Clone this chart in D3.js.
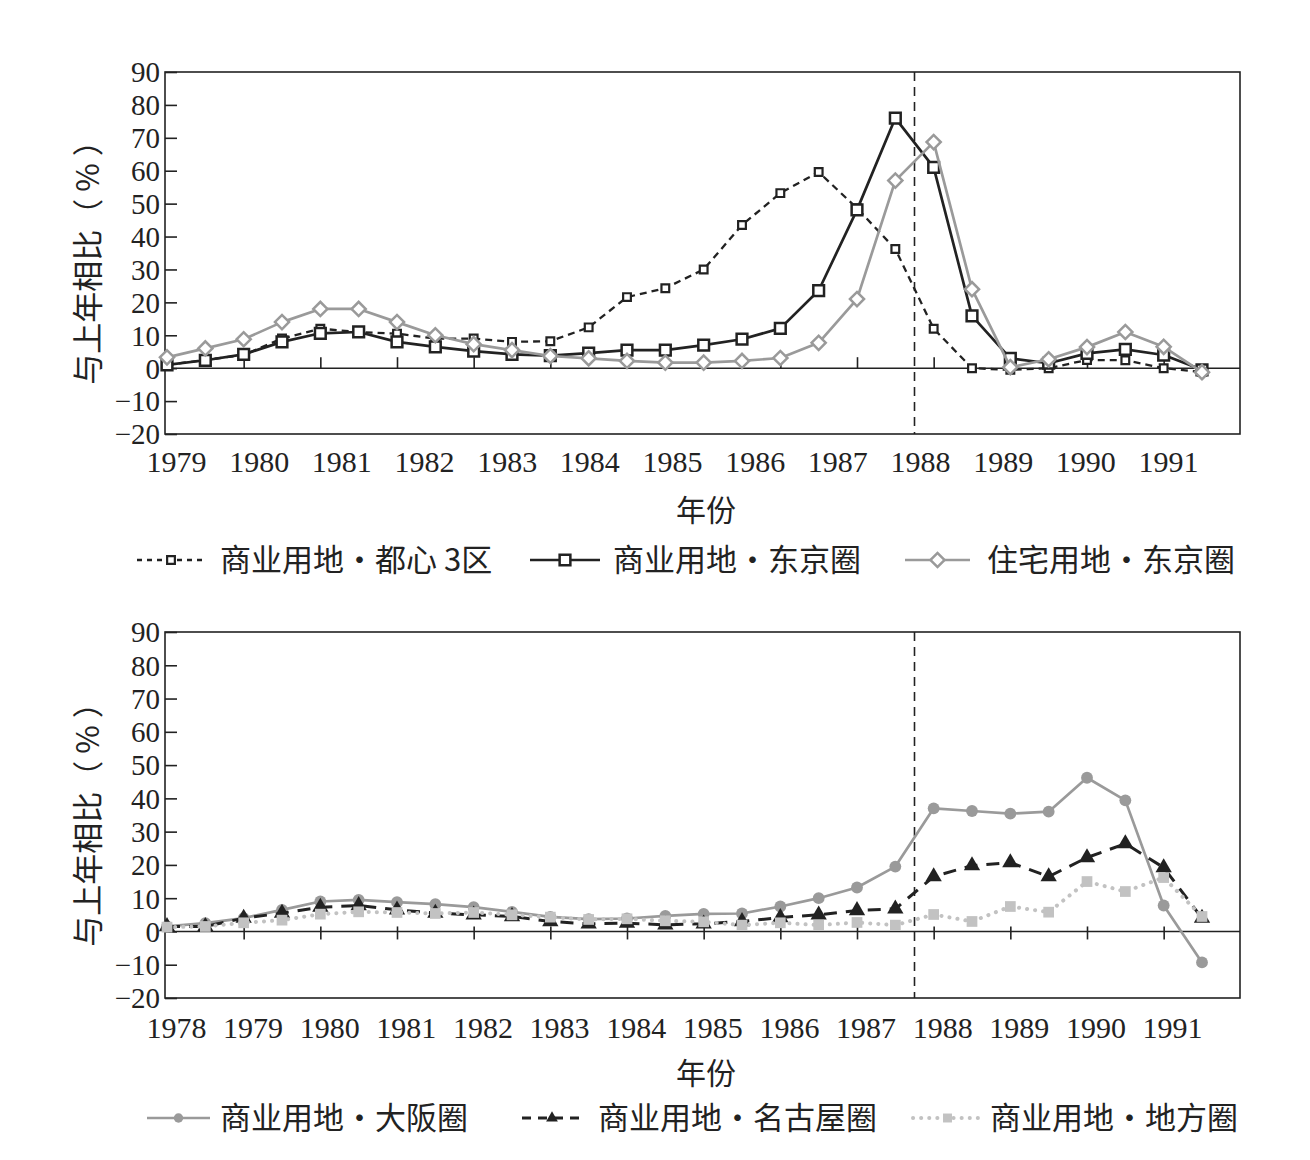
<!DOCTYPE html>
<html>
<head>
<meta charset="utf-8">
<script src="https://cdn.jsdelivr.net/npm/d3@7"></script>
<style>
  html, body { margin: 0; padding: 0; background: #fff; }
  svg { display: block; }
</style>
</head>
<body>
<svg id="chart" width="1310" height="1160"></svg>
<script>
// ---------------- DATA ----------------
// semi-annual observations (28 points per series)
const yTicks = [-20, -10, 0, 10, 20, 30, 40, 50, 60, 70, 80, 90];

const topYearLabels = [1979, 1980, 1981, 1982, 1983, 1984, 1985, 1986, 1987, 1988, 1989, 1990, 1991];
const bottomYearLabels = [1978, 1979, 1980, 1981, 1982, 1983, 1984, 1985, 1986, 1987, 1988, 1989, 1990, 1991];

// Top panel series
const comTokyo3Wards = [1, 2.5, 4, 9, 12, 11, 10.5, 9, 9, 8, 8.2, 12.4, 21.6, 24.3, 30, 43.5, 53.2, 59.6, 48.6, 36.2, 12, 0, -0.5, 0, 2.5, 2.4, 0, -1.2];
const comTokyoArea   = [1, 2.4, 4.2, 8, 10.6, 11, 8, 6.5, 5.2, 4.2, 3.8, 4.6, 5.5, 5.5, 7, 8.8, 12.1, 23.6, 48.1, 76, 61, 15.9, 3, 1.5, 4.5, 5.7, 4, -0.5];
const resTokyoArea   = [3.3, 6, 8.8, 14, 18, 18, 14, 10, 7.3, 5.5, 3.7, 3, 2.2, 1.7, 1.7, 2.2, 3.1, 7.7, 21, 57, 68.7, 24, 0.3, 2.7, 6.4, 11, 6.5, -1.2];

// Bottom panel series
const comOsaka   = [1.5, 2.5, 4, 6.5, 9, 9.5, 8.8, 8.2, 7.3, 5.9, 4.4, 3.7, 3.9, 4.7, 5.3, 5.4, 7.5, 10, 13.2, 19.5, 37, 36.2, 35.4, 36, 46.2, 39.4, 7.8, -9.3];
const comNagoya  = [1.5, 1.5, 4, 5.5, 7.3, 7.8, 6.5, 5.5, 5, 4.5, 3, 2.3, 2.5, 2, 2.3, 3, 4.2, 5, 6.3, 6.8, 16.5, 19.8, 20.7, 16.5, 22.2, 26.4, 19.2, 4];
const comRegional= [1.3, 1.5, 2.6, 3.4, 5.2, 5.9, 5.7, 5.4, 5.7, 5, 4.3, 3.6, 3.8, 3.2, 2.9, 1.9, 2.6, 1.9, 2.7, 1.9, 5.1, 3, 7.5, 5.8, 15, 12, 16.2, 4.5];

const markerLineIndex = 19.5;   // vertical dashed reference line (between observations)
const xTickIndices = [2, 4, 6, 8, 10, 12, 14, 16, 18, 20, 22, 24, 26];

const yTitle = "与上年相比（ % ）";
const xTitle = "年份";
const topLegend = ["商业用地・都心 3区", "商业用地・东京圈", "住宅用地・东京圈"];
const bottomLegend = ["商业用地・大阪圈", "商业用地・名古屋圈", "商业用地・地方圈"];

// ---------------- DRAW ----------------
const svg = d3.select("#chart");
svg.append("rect").attr("width", 1310).attr("height", 1160).attr("fill", "#fff");

const INK = "#222";
const GRAY = "#9a9a9a";
const LIGHT = "#c2c2c2";
const NUMFONT = "'Liberation Serif', 'DejaVu Serif', serif";
const CJKFONT = "'Noto Sans CJK SC', 'Noto Sans', sans-serif";

const plotLeft = 165, plotRight = 1240;
const x = d3.scaleLinear().domain([0, 27]).range([167, 1202]);

function fmt(d) { return d < 0 ? "\u2212" + Math.abs(d) : String(d); }

function panel(cfg) {
  const g = svg.append("g");
  const y = d3.scaleLinear().domain([-20, 90]).range([cfg.bottom, cfg.top]);

  // frame
  g.append("rect")
    .attr("x", plotLeft).attr("y", cfg.top)
    .attr("width", plotRight - plotLeft).attr("height", cfg.bottom - cfg.top)
    .attr("fill", "none").attr("stroke", INK).attr("stroke-width", 1.6);

  // y axis
  const yAxis = d3.axisLeft(y).tickValues(yTicks).tickFormat(fmt)
    .tickSizeInner(-12).tickSizeOuter(0).tickPadding(5);
  const ya = g.append("g").attr("transform", `translate(${plotLeft},0)`).call(yAxis);
  ya.select(".domain").remove();
  ya.selectAll("line").attr("stroke", INK).attr("stroke-width", 1.6);
  ya.selectAll("text").attr("font-family", NUMFONT).attr("font-size", 29)
    .attr("fill", INK).attr("dy", "0.34em");

  // zero line
  g.append("line").attr("x1", plotLeft).attr("x2", plotRight)
    .attr("y1", y(0)).attr("y2", y(0)).attr("stroke", INK).attr("stroke-width", 1.6);

  // x ticks on the zero line
  const xAxis = d3.axisBottom(x).tickValues(xTickIndices).tickFormat("")
    .tickSizeInner(cfg.tickLen).tickSizeOuter(0);
  const xa = g.append("g").attr("transform", `translate(0,${y(0) + cfg.tickShift})`).call(xAxis);
  xa.select(".domain").remove();
  xa.selectAll("line").attr("stroke", INK).attr("stroke-width", 1.6);

  // year labels
  const lab = d3.scaleLinear()
    .domain([cfg.years[0], cfg.years[cfg.years.length - 1]])
    .range(cfg.labelRange);
  const la = g.append("g").attr("transform", `translate(0,${cfg.labelBase})`)
    .call(d3.axisBottom(lab).tickValues(cfg.years).tickFormat(d => String(d)).tickSize(0).tickPadding(0));
  la.select(".domain").remove();
  la.selectAll("text").attr("font-family", NUMFONT).attr("font-size", 30)
    .attr("fill", INK).attr("dy", 0);

  // vertical dashed line
  g.append("line").attr("x1", x(markerLineIndex)).attr("x2", x(markerLineIndex))
    .attr("y1", cfg.top).attr("y2", cfg.bottom)
    .attr("stroke", INK).attr("stroke-width", 1.6).attr("stroke-dasharray", "9,6");

  // titles
  g.append("text").attr("transform", `translate(99,${(cfg.top + cfg.bottom) / 2 + 2}) rotate(-90)`)
    .attr("text-anchor", "middle").attr("font-family", CJKFONT).attr("font-size", 31)
    .attr("fill", INK).text(yTitle);
  g.append("text").attr("x", 706).attr("y", cfg.xTitleBase)
    .attr("text-anchor", "middle").attr("font-family", CJKFONT).attr("font-size", 30)
    .attr("fill", INK).text(xTitle);

  // series
  const line = d3.line().x((d, i) => x(i)).y(d => y(d));
  cfg.series.forEach(s => {
    const sg = g.append("g");
    sg.append("path").datum(s.values).attr("d", line).attr("fill", "none")
      .attr("stroke", s.color).attr("stroke-width", s.width)
      .attr("stroke-dasharray", s.dash || null)
      .attr("stroke-linecap", s.cap || "butt").attr("stroke-linejoin", "round");
    sg.selectAll("path.m").data(s.values).enter().append("path").attr("class", "m")
      .attr("transform", (d, i) => `translate(${x(i)},${y(d)})` + (s.rotate ? " rotate(45)" : ""))
      .attr("d", d3.symbol().type(s.symbol).size(s.size)())
      .attr("fill", s.fill).attr("stroke", s.mstroke || "none").attr("stroke-width", s.mwidth || 0);
  });

  // legend
  cfg.legend.forEach((L, k) => {
    const s = cfg.series[k];
    const lg = g.append("g");
    lg.append("line").attr("x1", L.x1).attr("x2", L.x2).attr("y1", cfg.legendY).attr("y2", cfg.legendY)
      .attr("stroke", s.color).attr("stroke-width", s.width)
      .attr("stroke-dasharray", s.legendDash || s.dash || null)
      .attr("stroke-linecap", s.cap || "butt");
    lg.append("path")
      .attr("transform", `translate(${(L.x1 + L.x2) / 2},${cfg.legendY})` + (s.rotate ? " rotate(45)" : ""))
      .attr("d", d3.symbol().type(s.symbol).size(s.legendSize || s.size)())
      .attr("fill", s.fill).attr("stroke", s.mstroke || "none").attr("stroke-width", s.mwidth || 0);
    lg.append("text").attr("x", L.tx).attr("y", cfg.legendY + 11)
      .attr("font-family", CJKFONT).attr("font-size", 31).attr("fill", INK).text(cfg.legendText[k]);
  });
}

panel({
  top: 72, bottom: 434,
  tickLen: -11, tickShift: 0,
  years: topYearLabels, labelRange: [176, 1168], labelBase: 472,
  xTitleBase: 521,
  legendY: 560,
  legendText: topLegend,
  legend: [{x1: 137, x2: 205, tx: 220}, {x1: 530, x2: 600, tx: 613}, {x1: 905, x2: 970, tx: 987}],
  series: [
    {values: comTokyo3Wards, color: INK, width: 2.3, dash: "7,5", symbol: d3.symbolSquare, size: 60,
     fill: "#fff", mstroke: INK, mwidth: 2.2, legendDash: "5,5"},
    {values: comTokyoArea, color: INK, width: 2.7, symbol: d3.symbolSquare, size: 115,
     fill: "#fff", mstroke: INK, mwidth: 2.5},
    {values: resTokyoArea, color: GRAY, width: 2.7, symbol: d3.symbolSquare, size: 100, rotate: true,
     fill: "#fff", mstroke: GRAY, mwidth: 2.5}
  ]
});

panel({
  top: 632, bottom: 998,
  tickLen: 13, tickShift: -5,
  years: bottomYearLabels, labelRange: [176, 1172], labelBase: 1038,
  xTitleBase: 1084,
  legendY: 1118,
  legendText: bottomLegend,
  legend: [{x1: 147, x2: 210, tx: 220}, {x1: 522, x2: 582, tx: 598}, {x1: 913, x2: 982, tx: 990}],
  series: [
    {values: comOsaka, color: GRAY, width: 2.7, symbol: d3.symbolCircle, size: 110, fill: GRAY, legendSize: 70},
    {values: comNagoya, color: INK, width: 3, dash: "13,9", symbol: d3.symbolTriangle, size: 115, fill: INK,
     legendDash: "9,7", legendSize: 60},
    {values: comRegional, color: LIGHT, width: 4, dash: "0.1,8", cap: "round", symbol: d3.symbolSquare, size: 115,
     fill: LIGHT, legendSize: 80}
  ]
});
</script>
</body>
</html>
